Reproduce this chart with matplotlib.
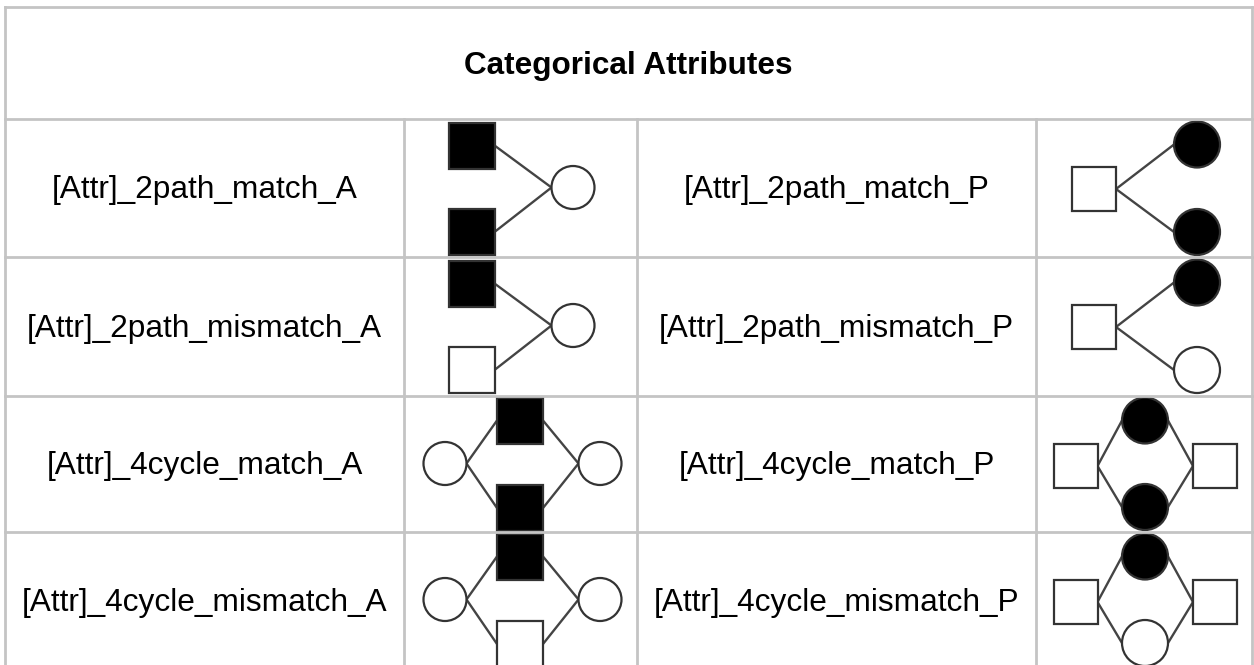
import matplotlib
matplotlib.use('Agg')
import matplotlib.pyplot as plt
from matplotlib.patches import Rectangle, Circle

plt.rcParams['font.family'] = ['Liberation Sans', 'DejaVu Sans']

# table content
title = 'Categorical Attributes'
labels_A = ['[Attr]_2path_match_A', '[Attr]_2path_mismatch_A',
            '[Attr]_4cycle_match_A', '[Attr]_4cycle_mismatch_A']
labels_P = ['[Attr]_2path_match_P', '[Attr]_2path_mismatch_P',
            '[Attr]_4cycle_match_P', '[Attr]_4cycle_mismatch_P']
# which small network goes with each row: (A-diagram, P-diagram)
diagram_A = ['2path_A', '2path_A', '4cycle_A', '4cycle_A']
diagram_P = ['2path_P', '2path_P', '4cycle_P', '4cycle_P']
# filled (black) or hollow for the varying nodes of each row
fill_A = [(True, True), (True, False), (True, True), (True, False)]
fill_P = [(True, True), (True, False), (True, True), (True, False)]

# table geometry in pixels
col_x = [5, 404, 637, 1036, 1252]
row_y = [7, 119, 257, 396, 532, 670]
grid_col = '#c4c4c4'
edge_col = '#444444'

# node templates: (shape, x offset in cell, y offset in row, size)
# the two entries flagged 'v' take their fill from the row's fill pair
templates = {
    '2path_A': ([('s', 67.5, 26.5, 46, 'v'), ('s', 67.5, 113, 46, 'v'),
                 ('c', 169, 68.5, 21.5, False)], [(0, 2), (1, 2)]),
    '2path_P': ([('s', 58, 70, 44, False), ('c', 161, 25.5, 23, 'v'),
                 ('c', 161, 113, 23, 'v')], [(0, 1), (0, 2)]),
    '4cycle_A': ([('c', 41, 67.5, 21.5, False), ('s', 116, 24.5, 46, 'v'),
                  ('s', 116, 112, 46, 'v'), ('c', 196, 67.5, 21.5, False)],
                 [(0, 1), (0, 2), (1, 3), (2, 3)]),
    '4cycle_P': ([('s', 39.5, 70, 44, False), ('c', 109, 24.5, 23, 'v'),
                  ('c', 109, 111, 23, 'v'), ('s', 179, 70, 44, False)],
                 [(0, 1), (0, 2), (1, 3), (2, 3)]),
}


def draw_diagram(ax, name, fills, x0, y0):
    nodes, edges = templates[name]
    pts = []
    k = 0
    for shape, dx, dy, size, fl in nodes:
        if fl == 'v':
            fl = fills[k]
            k += 1
        pts.append((shape, x0 + dx, y0 + dy, size, fl))
    # edges: right side of left node to left side of right node
    for a, b in edges:
        na, nb = pts[a], pts[b]
        if na[1] > nb[1]:
            na, nb = nb, na
        ha = na[3] / 2 if na[0] == 's' else na[3]
        hb = nb[3] / 2 if nb[0] == 's' else nb[3]
        ax.plot([na[1] + ha, nb[1] - hb], [na[2], nb[2]], color=edge_col,
                lw=1.7, solid_capstyle='round', zorder=2)
    for shape, cx, cy, size, fl in pts:
        fc = 'black' if fl else 'white'
        if shape == 's':
            p = Rectangle((cx - size / 2, cy - size / 2), size, size,
                          facecolor=fc, edgecolor='#333333', lw=1.6, zorder=3)
        else:
            p = Circle((cx, cy), size, facecolor=fc, edgecolor='#333333',
                       lw=1.6, zorder=3)
        ax.add_patch(p)


fig = plt.figure(figsize=(12.54, 6.65), dpi=100)
ax = fig.add_axes([0, 0, 1, 1])
ax.set_xlim(0, 1254)
ax.set_ylim(665, 0)
ax.axis('off')

# grid lines
for x in [col_x[0], col_x[-1]]:
    ax.plot([x, x], [row_y[0], row_y[-1]], color=grid_col, lw=2, zorder=1)
for x in col_x[1:-1]:
    ax.plot([x, x], [row_y[1], row_y[-1]], color=grid_col, lw=2, zorder=1)
for y in row_y[:-1]:
    ax.plot([col_x[0], col_x[-1]], [y, y], color=grid_col, lw=2, zorder=4)

ax.text((col_x[0] + col_x[-1]) / 2, (row_y[0] + row_y[1]) / 2 + 3, title,
        ha='center', va='center', fontsize=22.7, fontweight='bold')

for i in range(len(labels_A)):
    yc = (row_y[i + 1] + row_y[i + 2]) / 2 + 2
    ax.text((col_x[0] + col_x[1]) / 2, yc, labels_A[i], ha='center',
            va='center', fontsize=22.8)
    ax.text((col_x[2] + col_x[3]) / 2, yc, labels_P[i], ha='center',
            va='center', fontsize=22.8)
    draw_diagram(ax, diagram_A[i], fill_A[i], col_x[1], row_y[i + 1])
    draw_diagram(ax, diagram_P[i], fill_P[i], col_x[3], row_y[i + 1])

fig.savefig('out.png', dpi=100, facecolor='white')
